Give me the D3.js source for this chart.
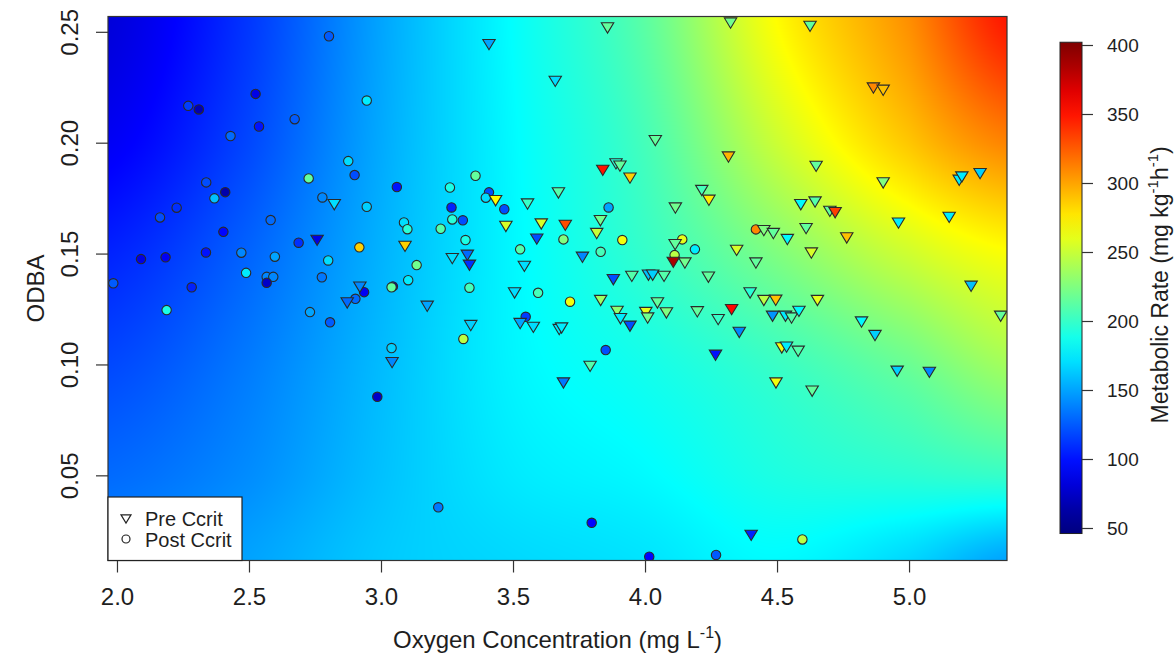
<!DOCTYPE html>
<html>
<head>
<meta charset="utf-8">
<script src="https://cdn.jsdelivr.net/npm/d3@7"></script>
<style>
  body { margin: 0; background: #fff; }
  svg text { font-family: "Liberation Sans", Arial, Helvetica, sans-serif; fill: #1e1e1e; }
</style>
</head>
<body>
<svg id="chart" width="1176" height="653"></svg>
<script>
// ---- data ----
// Pre Ccrit points (triangles)
var preO2 = [2.823,2.758,2.92,2.872,3.042,3.858,3.409,3.66,4.039,3.84,3.89,3.905,3.943,3.434,3.555,3.672,4.115,4.215,
  3.473,3.607,3.698,3.831,3.817,3.59,3.091,3.27,3.327,3.335,3.543,3.763,3.506,3.175,3.34,3.527,3.577,3.675,3.684,
  3.832,3.894,3.907,3.943,4.003,4.01,4.047,4.081,4.198,3.88,3.95,4.013,4.029,4.072,4.114,4.107,4.151,3.792,3.691,
  4.324,4.625,4.865,4.902,4.316,4.648,4.902,5.19,5.20,5.269,4.242,4.59,4.644,4.70,4.72,4.96,5.152,4.45,4.486,4.539,
  4.61,4.764,4.347,4.63,4.42,4.24,4.398,4.45,4.495,4.653,4.277,4.328,4.357,4.483,4.532,4.555,4.583,4.267,4.518,
  4.536,4.58,4.82,4.871,5.235,5.347,4.955,5.077,4.496,4.633,4.402];
var preODBA = [0.1726,0.1565,0.1354,0.1283,0.1014,0.2523,0.2448,0.2282,0.2015,0.1881,0.191,0.190,0.1846,0.1744,0.1729,0.1779,0.1711,0.179,
  0.1628,0.1639,0.1633,0.1654,0.1596,0.1571,0.1538,0.1483,0.1498,0.1453,0.1448,0.1489,0.1328,0.1268,0.1181,0.119,0.1173,0.1163,0.117,
  0.1294,0.1245,0.1212,0.1178,0.124,0.1215,0.1283,0.1238,0.1243,0.1388,0.1403,0.1408,0.1408,0.1403,0.1546,0.1466,0.1463,0.0997,0.0922,
  0.2545,0.253,0.2252,0.2242,0.1941,0.1899,0.1824,0.1836,0.1851,0.1866,0.1746,0.1726,0.1738,0.1696,0.169,0.1643,0.1669,0.1609,0.1596,0.1569,
  0.1618,0.1576,0.152,0.1508,0.1463,0.1399,0.1328,0.1294,0.1295,0.1294,0.1208,0.1253,0.115,0.1223,0.1223,0.1215,0.1245,0.1047,0.108,
  0.1084,0.1065,0.1197,0.1136,0.1358,0.1223,0.0975,0.097,0.0922,0.0885,0.0235];
var preMR = [170,85,140,130,140,215,150,170,215,350,195,215,285,270,200,210,220,205,
  255,255,330,220,250,120,285,170,130,110,170,140,170,150,165,150,170,175,175,
  235,230,175,120,260,220,215,225,215,120,210,160,165,210,215,385,220,210,135,
  220,215,310,290,295,215,225,175,175,165,275,180,210,215,335,175,175,225,215,180,
  215,290,255,255,215,215,195,245,290,260,200,355,140,145,175,210,180,100,265,
  175,210,180,165,160,215,165,140,265,215,105];

// Post Ccrit points (circles)
var postO2 = [2.803,2.525,2.27,2.31,2.946,2.673,2.538,2.43,2.876,2.90,2.726,2.338,2.41,2.369,2.778,2.946,3.06,2.226,
  2.163,2.582,2.403,2.688,2.918,2.091,2.184,2.337,2.471,2.598,2.80,2.489,2.567,2.592,2.567,2.776,1.986,2.283,2.936,
  2.903,3.045,3.04,2.188,2.731,2.807,3.04,2.986,3.261,3.358,3.409,3.397,3.467,3.267,3.862,3.087,3.10,3.27,3.31,
  3.226,3.914,3.691,3.32,3.135,3.103,3.527,3.832,3.335,3.595,3.312,3.548,3.716,4.141,4.112,4.189,3.851,4.42,
  3.217,3.798,4.016,4.269,4.596];
var postODBA = [0.248,0.222,0.2166,0.215,0.219,0.2106,0.2073,0.203,0.1917,0.1854,0.1839,0.1821,0.1777,0.1749,0.1753,0.1711,0.180,0.1707,
  0.1663,0.1651,0.1598,0.1549,0.1528,0.1475,0.1483,0.1505,0.1504,0.1486,0.1469,0.1413,0.1395,0.1395,0.1368,0.1393,0.1366,0.1348,0.1326,
  0.1296,0.1352,0.1348,0.1245,0.1236,0.119,0.1074,0.0854,0.1798,0.1851,0.1776,0.1752,0.170,0.1708,0.1708,0.164,0.161,0.1654,0.165,
  0.1612,0.1561,0.1564,0.1561,0.1448,0.138,0.1519,0.1508,0.1346,0.1323,0.1115,0.1215,0.1283,0.1564,0.1493,0.1519,0.1065,0.1609,
  0.0356,0.0286,0.0133,0.0141,0.0211];
var postMR = [125,85,115,68,175,125,100,130,170,120,215,120,65,160,140,165,100,110,
  120,130,95,110,285,85,90,100,140,150,170,175,140,140,75,135,125,105,90,
  130,75,215,190,150,125,165,75,190,215,120,170,120,105,150,170,195,195,120,
  210,265,225,190,220,175,210,205,205,205,245,115,265,260,245,175,120,310,
  135,95,95,125,245];

// fitted metabolic-rate surface, read at grid nodes (rows bottom -> top)
var surfO2 = [1.95, 2.5, 3.0, 3.5, 4.0, 4.5, 5.0, 5.4];
var surfODBA = [0.01, 0.05, 0.10, 0.15, 0.20, 0.26];
var surfMR = [
  [140, 150, 163, 168, 172, 180, 167, 148],
  [130, 142, 160, 174, 180, 191, 196, 200],
  [118, 136, 158, 178, 188, 201, 218, 238],
  [105, 128, 155, 179, 199, 225, 252, 268],
  [ 90, 118, 152, 180, 205, 251, 288, 312],
  [ 80, 112, 150, 182, 213, 270, 308, 352]
];

var xTicks = [2.0, 2.5, 3.0, 3.5, 4.0, 4.5, 5.0];
var yTicks = [0.05, 0.10, 0.15, 0.20, 0.25];
var mrTicks = [50, 100, 150, 200, 250, 300, 350, 400];
var legendLabels = ["Pre Ccrit", "Post Ccrit"];

// ---- layout ----
var svg = d3.select("#chart");
var plot = {left: 108, right: 1007, top: 16.5, bottom: 560.5};

var x = d3.scaleLinear().domain([1.966, 5.371]).range([plot.left, plot.right]);
var y = d3.scaleLinear().domain([0.0116, 0.2569]).range([plot.bottom, plot.top]);

// jet palette, 50..400
var jet = d3.scaleLinear()
  .domain([50, 93.75, 181.25, 268.75, 356.25, 400])
  .range(["#00007f", "#0000ff", "#00ffff", "#ffff00", "#ff0000", "#7f0000"])
  .clamp(true);

// ---- background surface ----
function catmull(p0, p1, p2, p3, t) {
  return 0.5 * (2 * p1 + (-p0 + p2) * t + (2 * p0 - 5 * p1 + 4 * p2 - p3) * t * t + (-p0 + 3 * p1 - 3 * p2 + p3) * t * t * t);
}
var ix = d3.scaleLinear().domain(surfO2).range(d3.range(surfO2.length)).clamp(true);
var iy = d3.scaleLinear().domain(surfODBA).range(d3.range(surfODBA.length)).clamp(true);
function node(r, c) {
  r = Math.max(0, Math.min(surfODBA.length - 1, r));
  c = Math.max(0, Math.min(surfO2.length - 1, c));
  return surfMR[r][c];
}
function surface(o2, odba) {
  var fx = ix(o2), fy = iy(odba);
  var cx = Math.min(Math.floor(fx), surfO2.length - 2), cy = Math.min(Math.floor(fy), surfODBA.length - 2);
  var tx = fx - cx, ty = fy - cy;
  var rows = [];
  for (var k = -1; k <= 2; k++) {
    rows.push(catmull(node(cy + k, cx - 1), node(cy + k, cx), node(cy + k, cx + 1), node(cy + k, cx + 2), tx));
  }
  return catmull(rows[0], rows[1], rows[2], rows[3], ty);
}

var pw = Math.round(plot.right - plot.left), ph = Math.round(plot.bottom - plot.top);
var canvas = document.createElement("canvas");
canvas.width = pw; canvas.height = ph;
var ctx = canvas.getContext("2d");
var img = ctx.createImageData(pw, ph);
for (var j = 0; j < ph; j++) {
  var odba = y.invert(plot.top + j + 0.5);
  for (var i = 0; i < pw; i++) {
    var c = d3.rgb(jet(surface(x.invert(plot.left + i + 0.5), odba)));
    var p = (j * pw + i) * 4;
    img.data[p] = c.r; img.data[p + 1] = c.g; img.data[p + 2] = c.b; img.data[p + 3] = 255;
  }
}
ctx.putImageData(img, 0, 0);

svg.append("rect").attr("width", 1176).attr("height", 653).attr("fill", "#fff");
svg.append("image")
  .attr("x", plot.left).attr("y", plot.top)
  .attr("width", pw).attr("height", ph)
  .attr("preserveAspectRatio", "none")
  .attr("href", canvas.toDataURL());

svg.append("clipPath").attr("id", "clip")
  .append("rect").attr("x", plot.left).attr("y", plot.top).attr("width", pw).attr("height", ph);

// ---- points ----
var pts = svg.append("g").attr("clip-path", "url(#clip)");
var postData = postO2.map(function(d, i) { return {o2: d, odba: postODBA[i], mr: postMR[i]}; });
var preData = preO2.map(function(d, i) { return {o2: d, odba: preODBA[i], mr: preMR[i]}; });

pts.selectAll("circle.post").data(postData).enter().append("circle")
  .attr("cx", function(d) { return x(d.o2); })
  .attr("cy", function(d) { return y(d.odba); })
  .attr("r", 4.7)
  .attr("fill", function(d) { return jet(d.mr); })
  .attr("stroke", "#2a2a2a").attr("stroke-width", 1.1);

var tri = "M-6.2,-3.9L6.2,-3.9L0,6.4Z";
pts.selectAll("path.pre").data(preData).enter().append("path")
  .attr("d", tri)
  .attr("transform", function(d) { return "translate(" + x(d.o2) + "," + y(d.odba) + ")"; })
  .attr("fill", function(d) { return jet(d.mr); })
  .attr("stroke", "#2a2a2a").attr("stroke-width", 1.1).attr("stroke-linejoin", "miter");

// plot frame
svg.append("rect")
  .attr("x", plot.left).attr("y", plot.top).attr("width", pw).attr("height", ph)
  .attr("fill", "none").attr("stroke", "#333").attr("stroke-width", 1.2);

// ---- axes ----
var xAxis = svg.append("g").attr("transform", "translate(0," + plot.bottom + ")")
  .call(d3.axisBottom(x).tickValues(xTicks).tickSize(12).tickFormat(d3.format(".1f")));
xAxis.select(".domain").remove();
xAxis.selectAll("line").attr("stroke", "#333").attr("stroke-width", 1.2);
xAxis.selectAll("text").attr("y", 44).attr("dy", 0).style("font-size", "24px").attr("fill", "#1e1e1e");

var yAxis = svg.append("g").attr("transform", "translate(" + plot.left + ",0)")
  .call(d3.axisLeft(y).tickValues(yTicks).tickSize(12).tickFormat(d3.format(".2f")));
yAxis.select(".domain").remove();
yAxis.selectAll("line").attr("stroke", "#333").attr("stroke-width", 1.2);
yAxis.selectAll("text")
  .attr("x", 0).attr("y", -30).attr("dy", 0)
  .attr("transform", "rotate(-90)")
  .style("text-anchor", "middle").style("font-size", "24px").attr("fill", "#1e1e1e");

var xt = svg.append("text").attr("x", (plot.left + plot.right) / 2).attr("y", 648)
  .attr("text-anchor", "middle").style("font-size", "24px");
xt.append("tspan").text("Oxygen Concentration (mg L");
xt.append("tspan").attr("dy", -10).style("font-size", "16px").text("-1");
xt.append("tspan").attr("dy", 10).text(")");

svg.append("text")
  .attr("transform", "translate(44," + ((plot.top + plot.bottom) / 2) + ") rotate(-90)")
  .attr("text-anchor", "middle").style("font-size", "24px").text("ODBA");

// ---- legend ----
var lg = svg.append("g");
lg.append("rect").attr("x", plot.left).attr("y", 497).attr("width", 134).attr("height", plot.bottom - 497)
  .attr("fill", "#fff").attr("stroke", "#222").attr("stroke-width", 1.2);
lg.append("path").attr("d", "M-5,-3.2L5,-3.2L0,5Z").attr("transform", "translate(126,518)")
  .attr("fill", "none").attr("stroke", "#222").attr("stroke-width", 1.2);
lg.append("circle").attr("cx", 126).attr("cy", 539).attr("r", 4)
  .attr("fill", "none").attr("stroke", "#222").attr("stroke-width", 1.2);
lg.selectAll("text.lab").data(legendLabels).enter().append("text")
  .attr("x", 145).attr("y", function(d, i) { return 526 + i * 21; })
  .style("font-size", "20px").text(function(d) { return d; });

// ---- colour bar ----
var cb = {x: 1060, w: 22};
var cy = d3.scaleLinear().domain([50, 400]).range([528, 45]);
var grad = svg.append("defs").append("linearGradient").attr("id", "jetGrad")
  .attr("x1", 0).attr("y1", 1).attr("x2", 0).attr("y2", 0);
var lo = 46, hi = 402;
d3.range(0, 1.0001, 0.05).forEach(function(t) {
  grad.append("stop").attr("offset", t).attr("stop-color", jet(lo + t * (hi - lo)));
});
svg.append("rect").attr("x", cb.x).attr("y", cy(hi)).attr("width", cb.w).attr("height", cy(lo) - cy(hi))
  .attr("fill", "url(#jetGrad)").attr("stroke", "#222").attr("stroke-width", 1);

var cAxis = svg.append("g").attr("transform", "translate(" + (cb.x + cb.w) + ",0)")
  .call(d3.axisRight(cy).tickValues(mrTicks).tickSize(11).tickPadding(14));
cAxis.select(".domain").remove();
cAxis.selectAll("line").attr("stroke", "#333").attr("stroke-width", 1.2);
cAxis.selectAll("text").style("font-size", "19px").attr("fill", "#1e1e1e");

var ct = svg.append("text")
  .attr("transform", "translate(1168," + ((cy(hi) + cy(lo)) / 2 - 3) + ") rotate(-90)")
  .attr("text-anchor", "middle").style("font-size", "23px");
ct.append("tspan").text("Metabolic Rate (mg kg");
ct.append("tspan").attr("dy", -10).style("font-size", "15px").text("-1");
ct.append("tspan").attr("dy", 10).text("h");
ct.append("tspan").attr("dy", -10).style("font-size", "15px").text("-1");
ct.append("tspan").attr("dy", 10).text(")");
</script>
</body>
</html>
